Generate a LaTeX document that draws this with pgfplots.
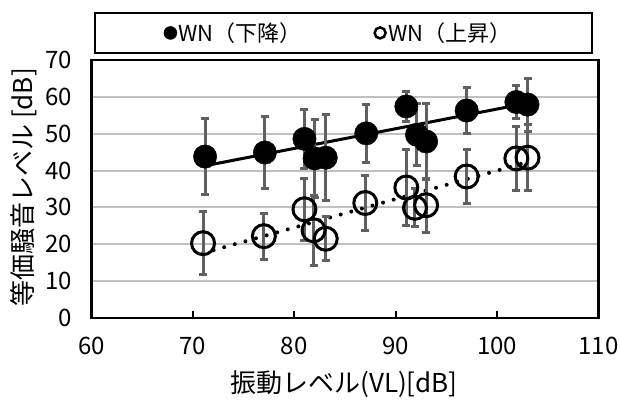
\documentclass[border=0pt]{standalone}
\usepackage{fontspec}
\setmainfont{Noto Sans CJK JP}
\usepackage{pgfplots}
\usepackage{pgfplotstable}
\pgfplotsset{compat=1.18}
\definecolor{errgray}{HTML}{606060}
\definecolor{gridgray}{HTML}{C0C0C0}
\pgfplotstableread[row sep=\\]{
x y e \\
71.2 43.8 10.3 \\
77.1 44.9 9.8 \\
81.0 48.6 8.0 \\
82.0 43.3 10.6 \\
83.1 43.5 11.7 \\
87.1 50.1 7.9 \\
91.05 57.4 4.0 \\
92.1 49.7 8.4 \\
93.0 47.9 10.3 \\
97.0 56.3 6.3 \\
101.9 58.6 4.6 \\
103.0 57.9 7.2 \\
}\filled
\pgfplotstableread[row sep=\\]{
x y e \\
71.0 20.3 8.5 \\
77.0 22.2 6.2 \\
81.0 29.5 8.4 \\
81.9 23.8 9.5 \\
83.1 21.5 6.0 \\
87.0 31.2 7.5 \\
91.05 35.4 10.2 \\
91.9 29.9 5.2 \\
93.0 30.6 7.3 \\
97.0 38.4 7.2 \\
101.9 43.3 8.6 \\
103.0 43.5 9.0 \\
}\hollow
\begin{document}
\begin{tikzpicture}
\useasboundingbox (-91.5pt,-81pt) rectangle (528.5pt,318pt);
\begin{axis}[
  at={(0,0)}, anchor=south west,
  scale only axis, width=507pt, height=258pt,
  xmin=60, xmax=110, ymin=0, ymax=70,
  xtick={60,70,...,110}, ytick={0,10,...,70},
  tick align=inside, xtick pos=bottom, ytick pos=left,
  major tick length=7pt,
  xtick style={black, line width=2pt},
  ytick style={draw=none},
  ymajorgrids, grid style={gridgray, line width=2pt},
  axis line style={black, line width=2.5pt},
  tick label style={font=\fontsize{24}{28}\selectfont},
  /pgf/number format/assume math mode=true,
  xticklabel style={anchor=north, inner sep=0pt, yshift=-19pt},
  yticklabel style={anchor=east, inner sep=0pt, xshift=-19.5pt},
  xlabel={振動レベル(VL)[dB]},
  ylabel={等価騒音レベル [dB]},
  label style={font=\fontsize{26}{30}\selectfont},
  xlabel style={at={(axis description cs:0.498,-0.256)}, anchor=center},
  ylabel style={at={(axis description cs:-0.133,0.506)}, anchor=center},
  clip=false,
  legend columns=2,
  legend style={at={(axis description cs:0.487,1.105)}, anchor=center, draw=none, fill=none,
    font=\fontsize{22}{26}\selectfont,
    /tikz/every even column/.append style={column sep=70pt},
    nodes={inner sep=1.5pt}},
]
\addplot[black, line width=3pt, no marks, forget plot] coordinates {(71,41.2) (103,58.3)};
\addplot[black, line width=4pt, line cap=round, dash pattern=on 0pt off 11pt, no marks, forget plot] coordinates {(71,17.6) (103,42.3)};
\addplot[only marks, mark=*, mark size=11.7pt, mark options={black, fill=black},
  error bars/.cd, y dir=both, y explicit,
  error bar style={errgray, line width=3pt},
  error mark options={rotate=90, mark size=4pt, errgray, line width=3pt},
  /pgfplots/legend image code/.code={\fill[black] (0pt,0pt) circle (6.5pt);}
] table[x=x, y=y, y error=e] {\filled};
\addlegendentry{WN（下降）}
\addplot[only marks, mark=o, mark size=11.5pt, mark options={black, line width=3pt},
  error bars/.cd, y dir=both, y explicit,
  error bar style={errgray, line width=3pt},
  error mark options={rotate=90, mark size=4pt, errgray, line width=3pt},
  /pgfplots/legend image code/.code={\draw[black, line width=2.5pt] (0pt,0pt) circle (5.5pt);}
] table[x=x, y=y, y error=e] {\hollow};
\addlegendentry{WN（上昇）}
\draw[black, line width=2.5pt] (axis description cs:0.007,1.027) rectangle (axis description cs:0.987,1.182);
\end{axis}
\end{tikzpicture}
\end{document}
